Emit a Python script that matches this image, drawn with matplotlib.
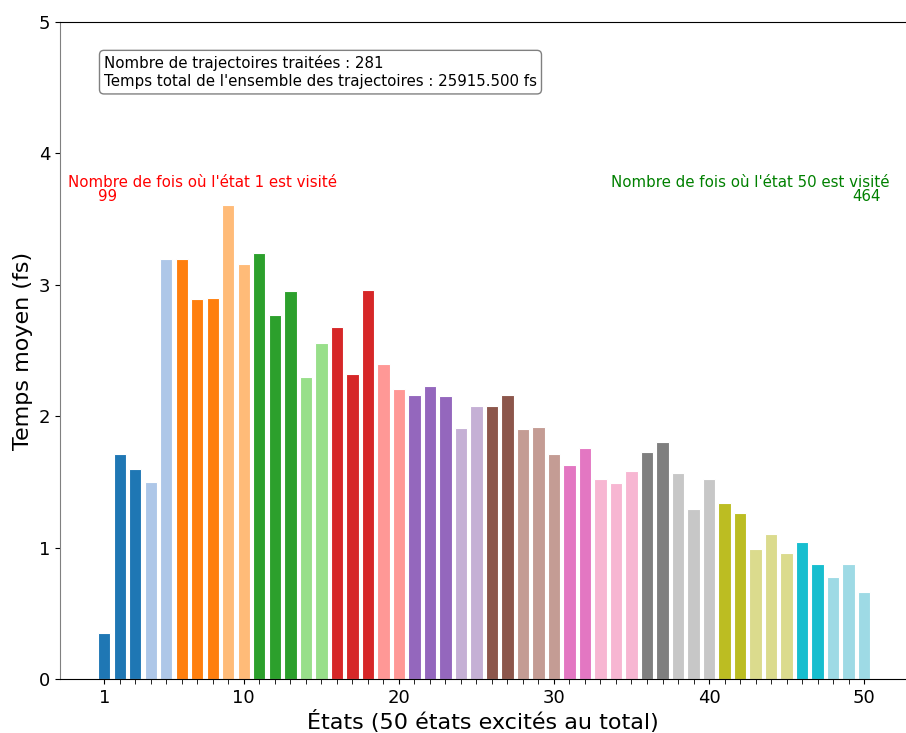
import matplotlib
matplotlib.use('Agg')
import matplotlib.pyplot as plt
from matplotlib.ticker import MultipleLocator, FixedLocator
import numpy as np

# temps moyen par etat (fs)
etats = list(range(1, 51))
temps_moyen = [0.35, 1.71, 1.60, 1.50, 3.20, 3.20, 2.89, 2.90, 3.61, 3.16,
               3.24, 2.77, 2.95, 2.30, 2.56, 2.68, 2.32, 2.96, 2.40, 2.21,
               2.16, 2.23, 2.15, 1.91, 2.08, 2.08, 2.16, 1.90, 1.92, 1.71,
               1.63, 1.76, 1.52, 1.49, 1.58, 1.73, 1.80, 1.57, 1.29, 1.52,
               1.34, 1.26, 0.99, 1.10, 0.96, 1.04, 0.875, 0.78, 0.875, 0.66]
x_ticks = [1, 10, 20, 30, 40, 50]
n_traj = 281
temps_total = 25915.5
visites_1 = 99
visites_50 = 464

couleurs = plt.get_cmap('tab20')(np.linspace(0, 1, len(etats)))

fig = plt.figure(figsize=(9.06, 7.33), dpi=100)
ax = fig.add_axes([60/906, 1-679/733, 1-60/906, (679-22)/733])

ax.bar(etats, temps_moyen, width=0.8, color=couleurs, edgecolor='white', linewidth=0.8)

ax.set_xlim(-1.85, 52.7)
ax.set_ylim(0, 5)
ax.xaxis.set_major_locator(FixedLocator(x_ticks))
ax.xaxis.set_minor_locator(FixedLocator(etats))
ax.yaxis.set_major_locator(MultipleLocator(1))
ax.tick_params(axis='both', labelsize=13)
ax.tick_params(axis='x', which='minor', length=3.5)
ax.spines['left'].set_color('#808080')
ax.spines['right'].set_visible(False)

ax.set_xlabel('États (50 états excités au total)', fontsize=16, labelpad=2)
ax.set_ylabel('Temps moyen (fs)', fontsize=16)

ax.text(0.052, 0.95, 'Nombre de trajectoires traitées : %d\nTemps total de l\'ensemble des trajectoires : %.3f fs' % (n_traj, temps_total),
        transform=ax.transAxes, fontsize=10.8, va='top', ha='left', linespacing=1.3,
        bbox=dict(boxstyle='round,pad=0.3', facecolor='white', edgecolor='#808080'))

ax.text(0.01, 0.756, "Nombre de fois où l'état 1 est visité", transform=ax.transAxes,
        color='red', fontsize=10.8, ha='left', va='center')
ax.text(0.045, 0.734, str(visites_1), transform=ax.transAxes,
        color='red', fontsize=10.8, ha='left', va='center')
ax.text(0.981, 0.756, "Nombre de fois où l'état 50 est visité", transform=ax.transAxes,
        color='green', fontsize=10.8, ha='right', va='center')
ax.text(0.970, 0.734, str(visites_50), transform=ax.transAxes,
        color='green', fontsize=10.8, ha='right', va='center')

plt.savefig('out.png', dpi=100)
